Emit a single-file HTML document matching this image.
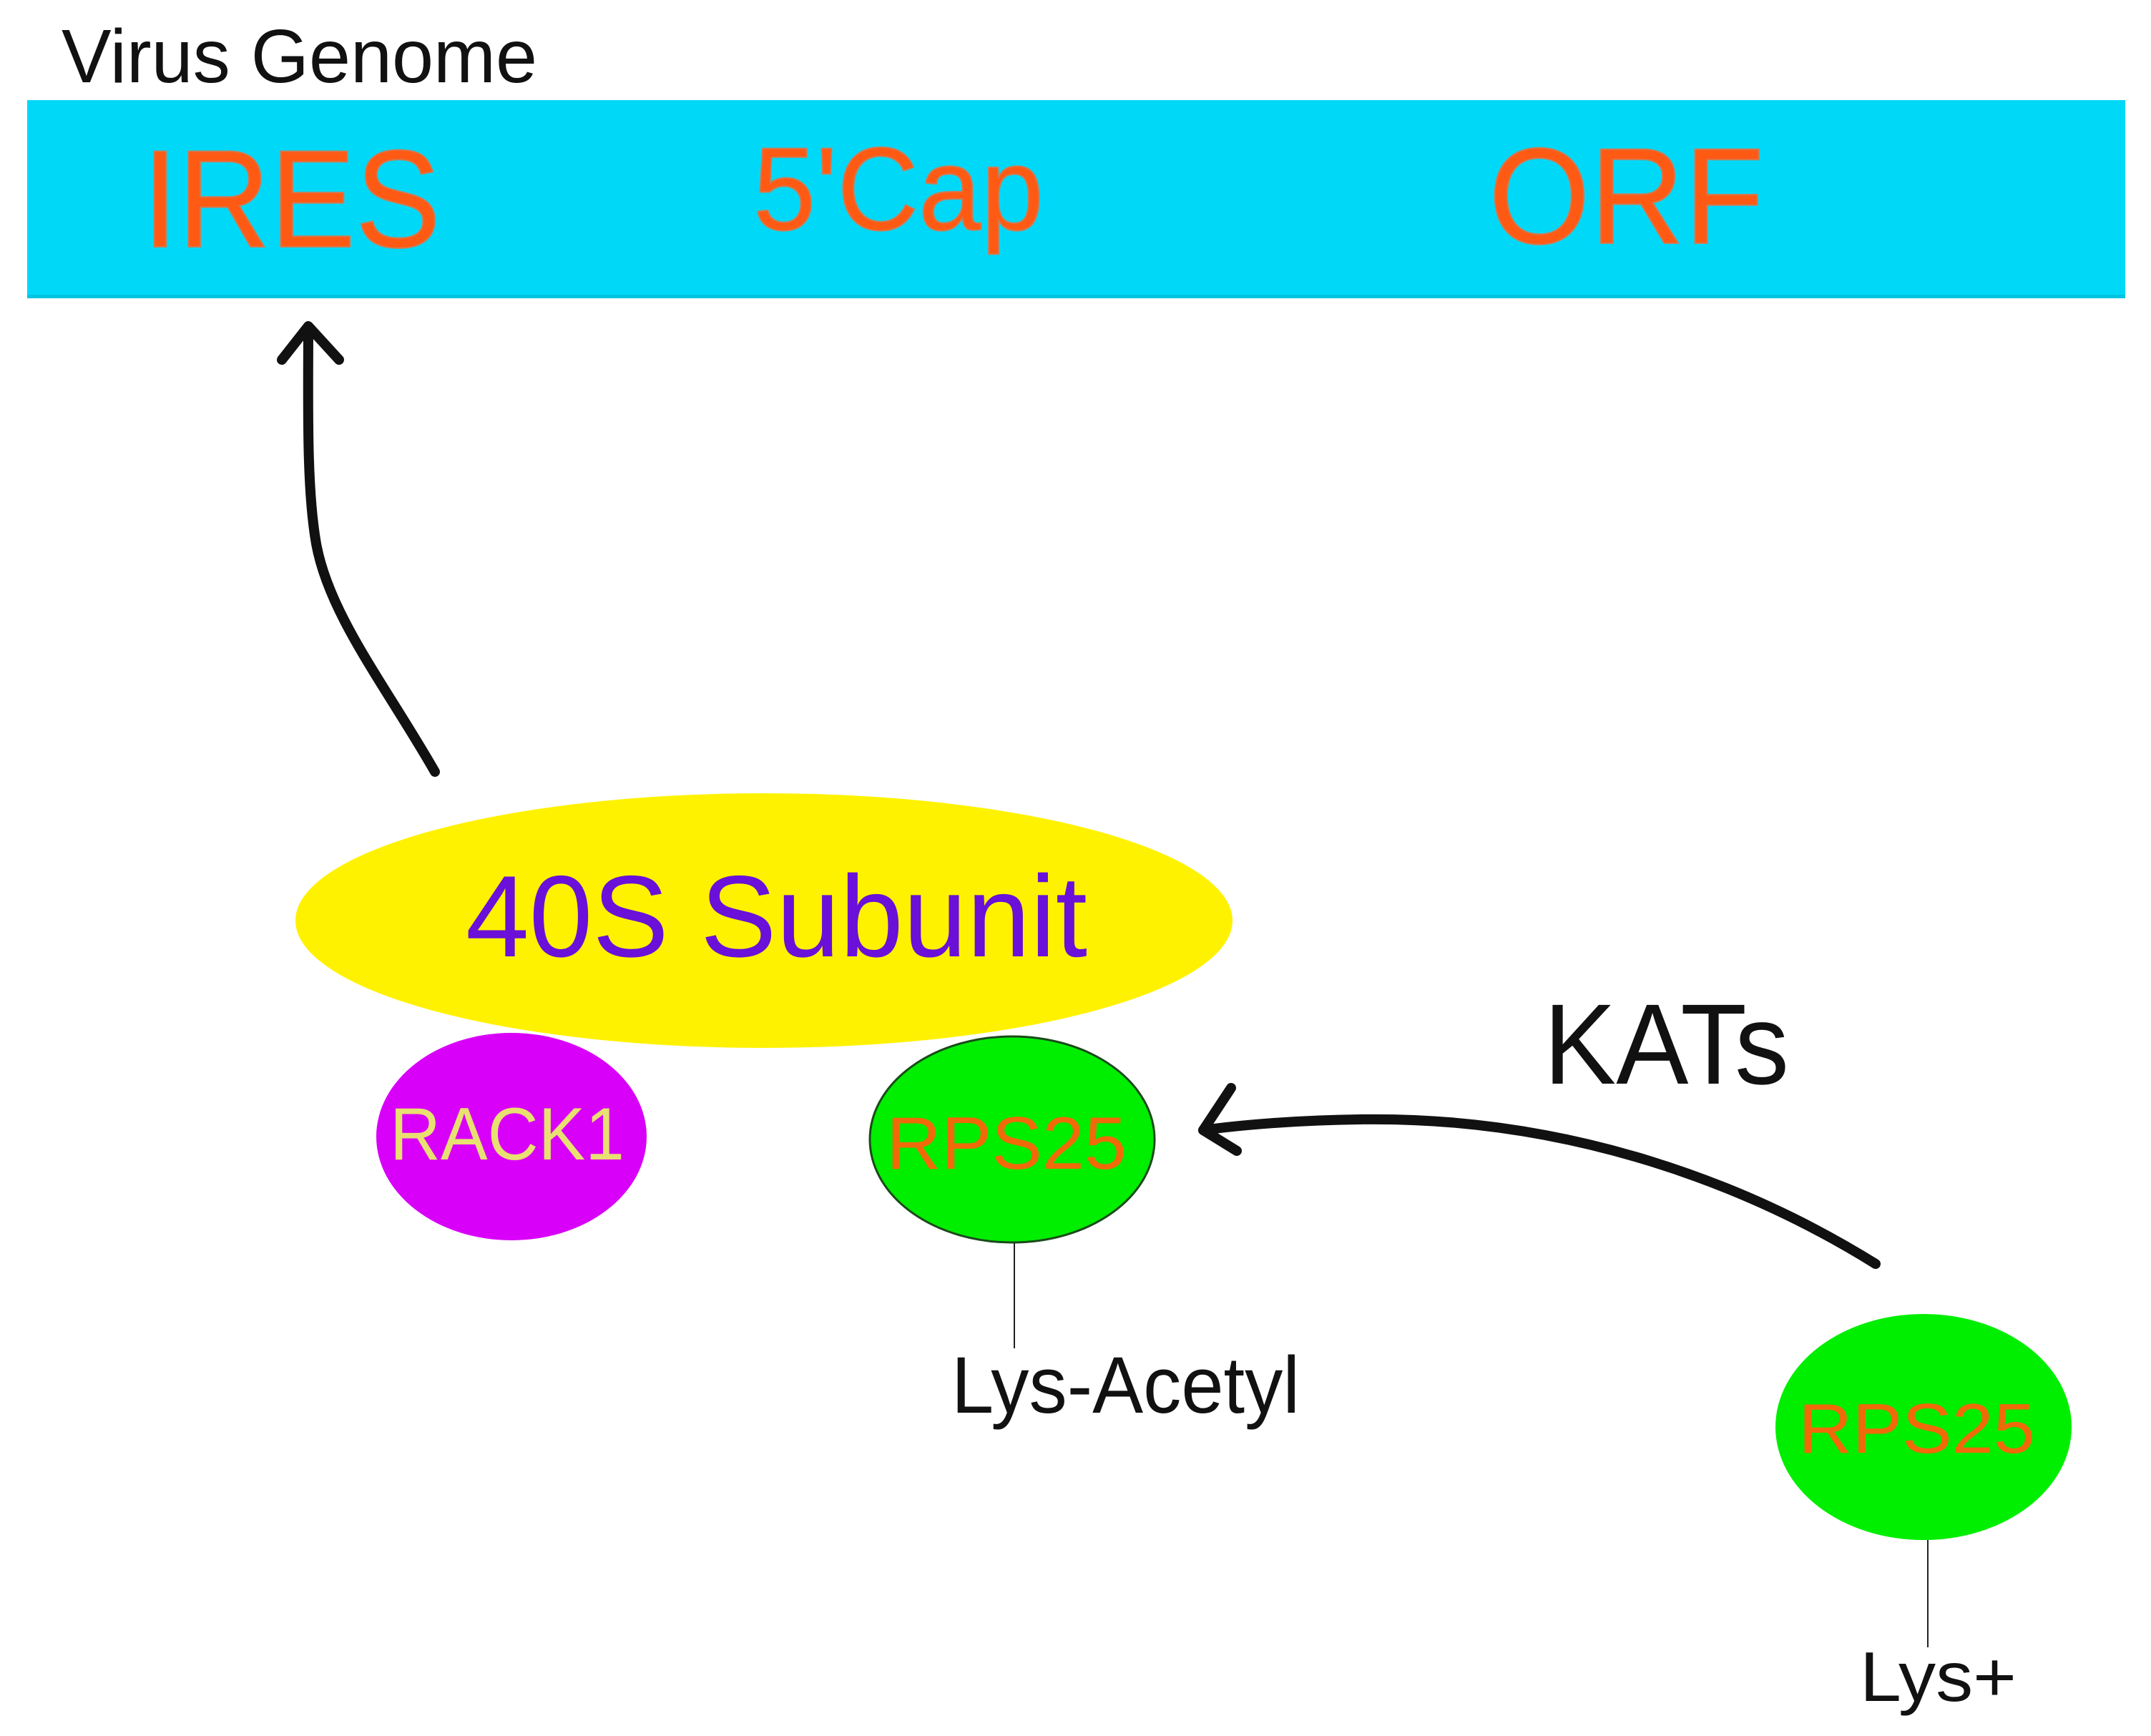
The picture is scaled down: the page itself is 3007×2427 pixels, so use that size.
<!DOCTYPE html>
<html><head><meta charset="utf-8"><style>html,body{margin:0;padding:0;background:#fff}svg{display:block}</style></head>
<body>
<svg width="3007" height="2427" viewBox="0 0 3007 2427" xmlns="http://www.w3.org/2000/svg" font-family="'Liberation Sans', Arial, sans-serif">
<rect width="3007" height="2427" fill="#fff"/>
<text x="86" y="115" font-size="106" fill="#111" textLength="665" lengthAdjust="spacingAndGlyphs">Virus Genome</text>
<rect x="38" y="140" width="2933" height="277" fill="#00d8f8"/>
<rect x="38" y="412" width="2933" height="5" fill="#00c4e0"/>
<g fill="#ff5a14" stroke="#d07a50" stroke-width="2">
<text x="199" y="345" font-size="194" textLength="417" lengthAdjust="spacingAndGlyphs">IRES</text>
<text x="1053" y="321" font-size="165" textLength="406" lengthAdjust="spacingAndGlyphs">5'Cap</text>
<text x="2081" y="340" font-size="191" textLength="385" lengthAdjust="spacingAndGlyphs">ORF</text>
</g>
<g fill="none" stroke="#111" stroke-width="14" stroke-linecap="round" stroke-linejoin="round">
<path d="M608 1079 C540 960 460 860 442 760 C428 680 431 560 431 458"/>
<path d="M394 503 L431 456 L474 503"/>
<path d="M2622 1767 C2450 1660 2200 1560 1900 1565 C1820 1566 1740 1572 1682 1580"/>
<path d="M1721 1521 L1682 1580 L1729 1609"/>
</g>
<ellipse cx="1068" cy="1287" rx="655" ry="178" fill="#fff200"/>
<text x="651" y="1337" font-size="162" fill="#6a10d8" textLength="869" lengthAdjust="spacingAndGlyphs">40S Subunit</text>
<ellipse cx="715" cy="1589" rx="189" ry="145" fill="#d800f8"/>
<text x="545" y="1621" font-size="104" fill="#e8e070" textLength="328" lengthAdjust="spacingAndGlyphs">RACK1</text>
<ellipse cx="1415" cy="1593" rx="199" ry="144" fill="#00ee00" stroke="#1a4a1a" stroke-width="3"/>
<text x="1239" y="1634" font-size="104" fill="#f06a0a" textLength="336" lengthAdjust="spacingAndGlyphs">RPS25</text>
<line x1="1418" y1="1738" x2="1418" y2="1885" stroke="#222" stroke-width="2"/>
<text x="1330" y="1975" font-size="112" fill="#111" textLength="487" lengthAdjust="spacingAndGlyphs">Lys-Acetyl</text>
<text x="2158" y="1515" font-size="160" fill="#111" textLength="343" lengthAdjust="spacingAndGlyphs">KATs</text>
<ellipse cx="2689" cy="1995" rx="207" ry="158" fill="#00ee00"/>
<text x="2514" y="2031" font-size="98" fill="#f06a0a" textLength="331" lengthAdjust="spacingAndGlyphs">RPS25</text>
<line x1="2695" y1="2153" x2="2695" y2="2303" stroke="#222" stroke-width="2"/>
<text x="2600" y="2378" font-size="98" fill="#111" textLength="219" lengthAdjust="spacingAndGlyphs">Lys+</text>
</svg>
</body></html>
